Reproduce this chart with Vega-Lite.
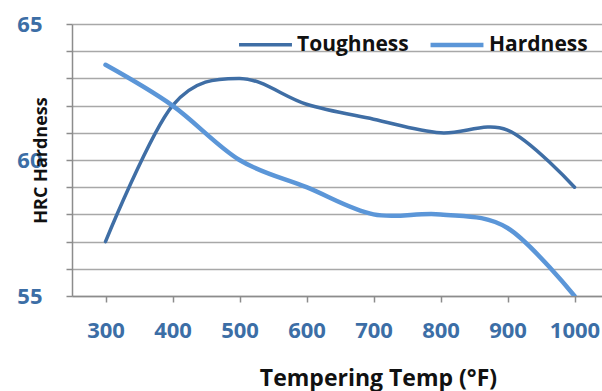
{
  "$schema": "https://vega.github.io/schema/vega-lite/v6.json",
  "width": 530,
  "height": 272,
  "autosize": {"type": "none"},
  "padding": {"left": 72, "top": 24, "right": 0, "bottom": 95},
  "background": "white",
  "config": {
    "view": {"stroke": null},
    "font": "Open Sans"
  },
  "data": {
    "values": [
      {"temp": 300, "series": "Toughness", "hrc": 57.0},
      {"temp": 400, "series": "Toughness", "hrc": 62.0},
      {"temp": 500, "series": "Toughness", "hrc": 63.0},
      {"temp": 600, "series": "Toughness", "hrc": 62.05},
      {"temp": 700, "series": "Toughness", "hrc": 61.5},
      {"temp": 800, "series": "Toughness", "hrc": 61.0},
      {"temp": 900, "series": "Toughness", "hrc": 61.1},
      {"temp": 1000, "series": "Toughness", "hrc": 59.0},
      {"temp": 300, "series": "Hardness", "hrc": 63.5},
      {"temp": 400, "series": "Hardness", "hrc": 62.0},
      {"temp": 500, "series": "Hardness", "hrc": 60.0},
      {"temp": 600, "series": "Hardness", "hrc": 59.0},
      {"temp": 700, "series": "Hardness", "hrc": 58.0},
      {"temp": 800, "series": "Hardness", "hrc": 58.0},
      {"temp": 900, "series": "Hardness", "hrc": 57.5},
      {"temp": 1000, "series": "Hardness", "hrc": 55.0}
    ]
  },
  "mark": {"type": "line", "interpolate": "cardinal", "strokeCap": "round", "strokeJoin": "round", "clip": true},
  "encoding": {
    "x": {
      "field": "temp",
      "type": "quantitative",
      "scale": {"domain": [250, 1041], "nice": false, "zero": false},
      "axis": {
        "values": [300, 400, 500, 600, 700, 800, 900, 1000],
        "format": "d",
        "title": "Tempering Temp (°F)",
        "titleFontSize": 23,
        "titleFontWeight": "bold",
        "titleColor": "#111111",
        "titleX": 306,
        "titleY": 82,
        "titleAlign": "center",
        "titleBaseline": "middle",
        "grid": false,
        "domainColor": "#8c8c8c",
        "domainWidth": 1.5,
        "tickColor": "#8c8c8c",
        "tickWidth": 1.5,
        "tickSize": 6,
        "labelFontSize": 22,
        "labelFontWeight": "bold",
        "labelColor": "#3c6ea6",
        "labelPadding": 18,
        "labelFlush": false
      }
    },
    "y": {
      "field": "hrc",
      "type": "quantitative",
      "scale": {"domain": [55, 65], "nice": false, "zero": false},
      "axis": {
        "values": [55, 56, 57, 58, 59, 60, 61, 62, 63, 64, 65],
        "labelExpr": "datum.value % 5 === 0 ? datum.label : ''",
        "title": "HRC Hardness",
        "titleFontSize": 18,
        "titleFontWeight": "bold",
        "titleColor": "#111111",
        "titleAngle": -90,
        "titleX": -31,
        "titleY": 136,
        "titleAlign": "center",
        "titleBaseline": "middle",
        "grid": true,
        "gridColor": "#a8a8a8",
        "gridWidth": 1.5,
        "domainColor": "#8c8c8c",
        "domainWidth": 1.5,
        "tickColor": "#8c8c8c",
        "tickWidth": 1.5,
        "tickSize": 6,
        "labelFontSize": 22,
        "labelFontWeight": "bold",
        "labelColor": "#3c6ea6",
        "labelPadding": 24,
        "labelFlush": false
      }
    },
    "color": {
      "field": "series",
      "type": "nominal",
      "scale": {"domain": ["Toughness", "Hardness"], "range": ["#3f6ea5", "#5b96d8"]},
      "legend": {
        "title": null,
        "orient": "none",
        "direction": "horizontal",
        "legendX": 165,
        "legendY": -8,
        "symbolType": "stroke",
        "symbolSize": 2800,
        "symbolStrokeWidth": 4.5,
        "labelFontSize": 21,
        "labelFontWeight": "bold",
        "labelColor": "#111111",
        "labelOffset": 3,
        "columnPadding": 12
      }
    },
    "strokeWidth": {
      "field": "series",
      "type": "nominal",
      "scale": {"domain": ["Toughness", "Hardness"], "range": [3.5, 4.5]},
      "legend": null
    }
  }
}
